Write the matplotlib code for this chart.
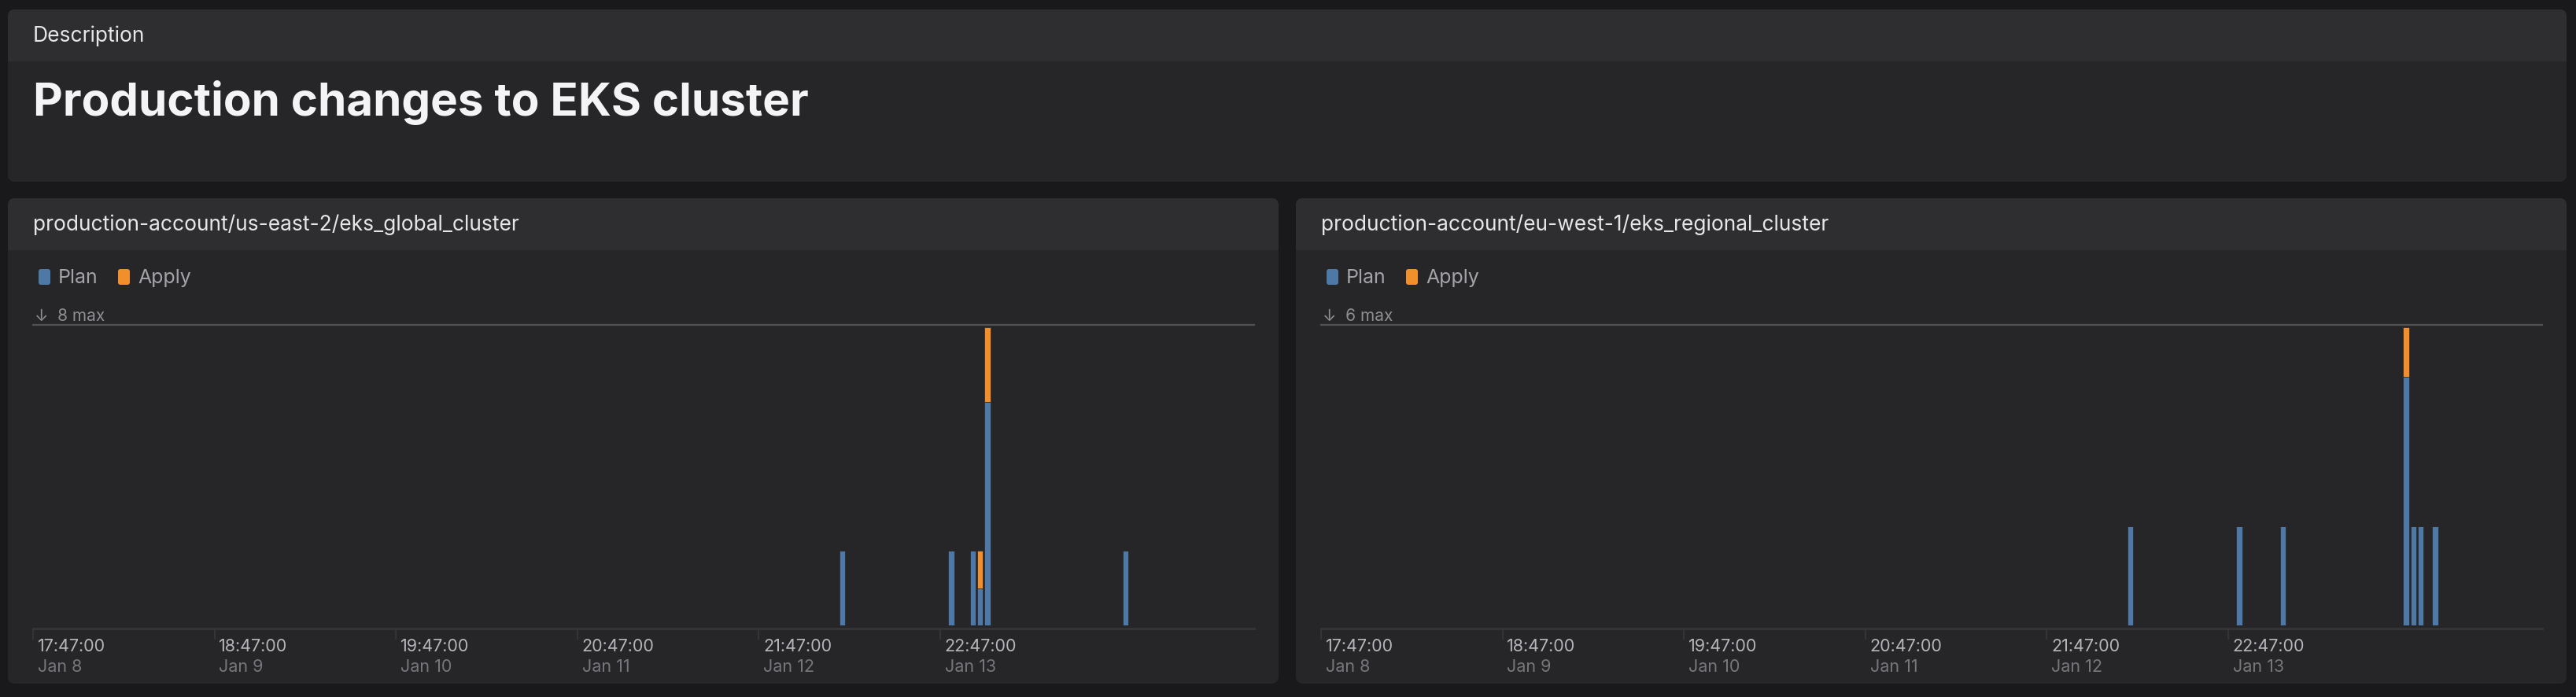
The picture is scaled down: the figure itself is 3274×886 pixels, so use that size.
import matplotlib
matplotlib.use("Agg")
import matplotlib.pyplot as plt
from matplotlib.patches import FancyBboxPatch, Rectangle
from matplotlib.transforms import IdentityTransform
import numpy as np

plt.rcParams['font.family'] = ['Inter', 'DejaVu Sans']

# ---- data ----
page_title = "Production changes to EKS cluster"
panel_titles = ["production-account/us-east-2/eks_global_cluster",
                "production-account/eu-west-1/eks_regional_cluster"]
series_names = ["Plan", "Apply"]

# event times, in tick steps after the first tick
left_t = [4.46, 5.06, 5.18, 5.22, 5.26, 6.02]
left_plan = [2, 2, 2, 1, 6, 2]
left_apply = [0, 0, 0, 1, 2, 0]

right_t = [4.46, 5.06, 5.30, 5.98, 6.02, 6.06, 6.14]
right_plan = [2, 2, 2, 5, 2, 2, 2]
right_apply = [0, 0, 0, 1, 0, 0, 0]

tick_times = ["17:47:00", "18:47:00", "19:47:00", "20:47:00", "21:47:00", "22:47:00"]
tick_dates = ["Jan 8", "Jan 9", "Jan 10", "Jan 11", "Jan 12", "Jan 13"]

# ---- style ----
W, H = 3274, 886
BG = "#19191b"
HEAD = "#2e2e31"
BODY = "#262628"
BLUE = "#4e79a7"
ORANGE = "#f28e2b"

fig = plt.figure(figsize=(W / 100, H / 100), dpi=100, facecolor=BG)
px = IdentityTransform()


def add_patch(p):
    p.set_zorder(-5)
    fig.patches.append(p)


def panel(x0, y0, x1, y1, head_bottom, r=9):
    # body (rounded), then header with square bottom corners
    add_patch(FancyBboxPatch((x0, H - y1), x1 - x0, y1 - y0,
                             boxstyle="round,pad=0,rounding_size=%d" % r,
                             fc=BODY, ec="none", transform=px))
    add_patch(FancyBboxPatch((x0, H - head_bottom), x1 - x0, head_bottom - y0,
                             boxstyle="round,pad=0,rounding_size=%d" % r,
                             fc=HEAD, ec="none", transform=px))
    add_patch(Rectangle((x0, H - head_bottom), x1 - x0, r,
                        fc=HEAD, ec="none", transform=px))


def txt(x, y, s, **kw):
    fig.text(x, H - y, s, transform=px, va="baseline", **kw)


# top description panel
panel(10, 12, 3262, 231, 78)
txt(42, 53, "Description", fontsize=19, color="#e6e6e8")
txt(42, 147, page_title, fontsize=42, fontweight="bold", color="#f4f4f6")


def chart(x0, x1, title, t, plan, apply_):
    panel(x0, 252, x1, 869, 318)
    lx = x0 + 32
    txt(lx, 293, title, fontsize=19, color="#e6e6e8")
    # legend
    for k, (name, col) in enumerate(zip(series_names, [BLUE, ORANGE])):
        sx = lx + 7 + k * 101
        fig.patches.append(FancyBboxPatch((sx, H - 362), 15, 20,
                                          boxstyle="round,pad=0,rounding_size=3",
                                          fc=col, ec="none", transform=px))
        txt(sx + 25, 360, name, fontsize=18, color="#a3a3a8")

    ax_l, ax_r = lx, x1 - 31
    ax = fig.add_axes([ax_l / W, 1 - 795 / H, (ax_r - ax_l) / W, (795 - 416) / H])
    ax.set_zorder(2)
    ax.set_facecolor("none")
    for s in ax.spines.values():
        s.set_visible(False)
    ax.set_xticks([])
    ax.set_yticks([])

    total = np.array(plan) + np.array(apply_)
    ymax = total.max()
    ax.set_xlim(0, 6.73)
    ax.set_ylim(0, ymax)

    ax.bar(t, plan, width=0.032, color=BLUE, edgecolor=BODY, linewidth=0.5)
    ax.bar(t, apply_, width=0.032, bottom=plan, color=ORANGE, edgecolor=BODY, linewidth=0.5)

    xt = ax.get_xaxis_transform()
    ax.plot([0, 6.73], [1 + 3 / 379, 1 + 3 / 379], transform=xt, color="#505055",
            lw=1.6, clip_on=False)
    ax.plot([0, 6.73], [-4 / 379, -4 / 379], transform=xt, color="#343437",
            lw=2.2, clip_on=False)
    ax.text(0.01, 1 + 8 / 379, "\u2193  %d max" % ymax, transform=xt, fontsize=15,
            color="#8e8e93", va="baseline", family=['Inter', 'DejaVu Sans'])

    for i, (tm, dt) in enumerate(zip(tick_times, tick_dates)):
        ax.plot([i, i], [-5 / 379, -17 / 379], transform=xt, color="#38383b",
                lw=1.2, clip_on=False)
        ax.text(i + 0.025, -33 / 379, tm, transform=xt, fontsize=15.5,
                color="#b5b5ba", va="baseline")
        ax.text(i + 0.025, -59 / 379, dt, transform=xt, fontsize=15.5,
                color="#76767b", va="baseline")
    return ax


chart(10, 1625, panel_titles[0], left_t, left_plan, left_apply)
chart(1647, 3262, panel_titles[1], right_t, right_plan, right_apply)

fig.savefig("out.png", dpi=100, facecolor=BG)
